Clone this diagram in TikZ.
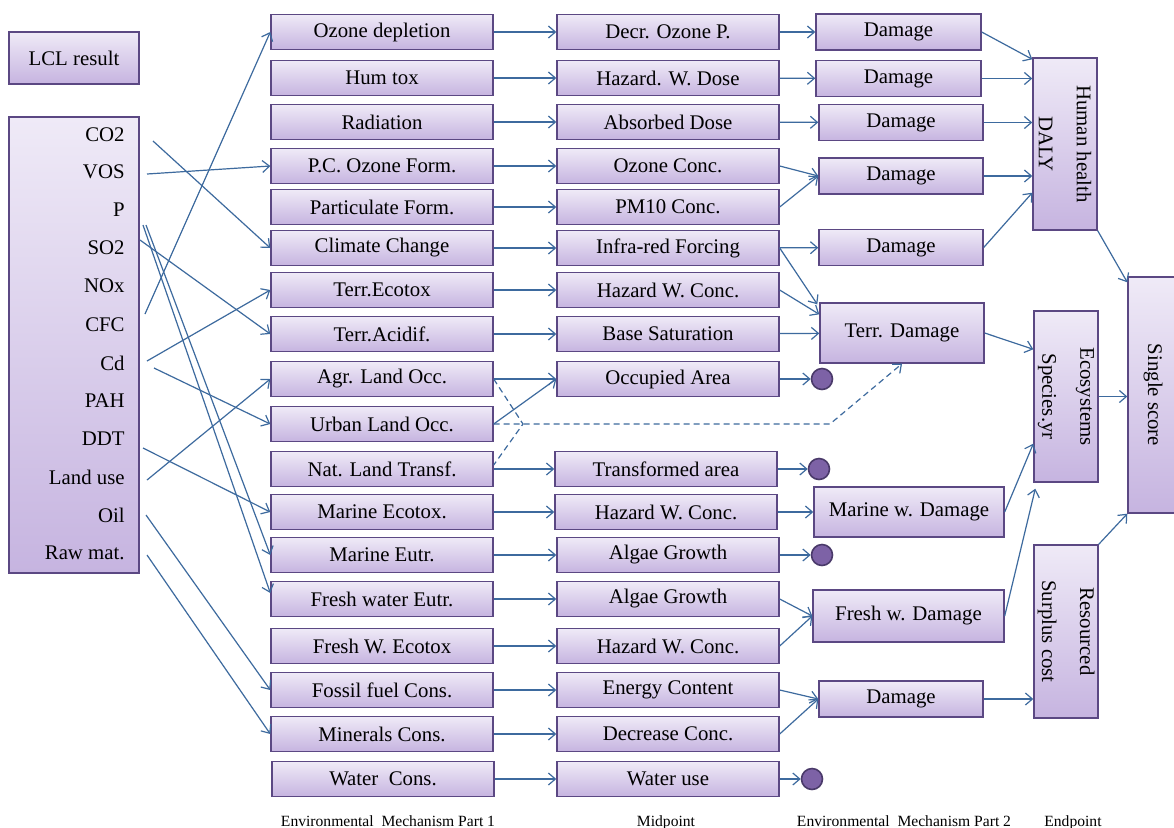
\documentclass[tikz,border=0pt]{standalone}
\usepackage{fontspec}
\setmainfont{Liberation Serif}
\usepackage{xcolor}
\usetikzlibrary{arrows.meta,positioning,calc}
\definecolor{boxtop}{HTML}{EFEAF7}
\definecolor{boxbottom}{HTML}{C6B4E0}
\definecolor{boxline}{HTML}{5B4883}
\definecolor{linkblue}{HTML}{3D6A9E}
\definecolor{dotfill}{HTML}{7D62A6}
\definecolor{dotline}{HTML}{4A3A6A}

\begin{document}
\begin{tikzpicture}[x=0.5pt, y=-0.5pt,
    box/.style={draw=boxline, line width=0.7pt, top color=boxtop, bottom color=boxbottom, inner sep=0pt, minimum height=17.5pt, font=\fontsize{10.4}{12}\selectfont},
    impact/.style={box, minimum width=111pt},
    dmg/.style={box, minimum width=82pt, minimum height=18pt},
    vbox/.style={box, minimum width=32pt},
    vlabel/.style={rotate=-90, align=center, font=\fontsize{10.4}{19}\selectfont},
    srclabel/.style={anchor=east, inner sep=0pt, font=\fontsize{10.4}{12}\selectfont},
    endpt/.style={circle, draw=dotline, line width=0.8pt, fill=dotfill, minimum size=10.5pt, inner sep=0pt},
    stagelabel/.style={anchor=base, font=\fontsize{7.8}{9}\selectfont},
    link/.style={draw=linkblue, line width=0.6pt, -{Straight Barb[length=3.5pt,width=6pt]}},
    landdash/.style={draw=linkblue, line width=0.6pt, dash pattern=on 3pt off 2pt}
]
\path[use as bounding box, fill=white] (0,0) rectangle (1174,827);
% INPUTS: LCI result
\node[box, minimum width=65pt, minimum height=26pt] (lcl) at (74,58) {LCL result};
\node[box, minimum width=65pt, minimum height=228pt] (inputs) at (74,345) {};
\node[srclabel] (co2) at (125,135) {CO2};
\node[srclabel] (vos) at (125,172) {VOS};
\node[srclabel] (phos) at (125,210) {P};
\node[srclabel] (so2) at (125,248) {SO2};
\node[srclabel] (nox) at (125,286) {NOx};
\node[srclabel] (cfc) at (125,325) {CFC};
\node[srclabel] (cd) at (125,363) {Cd};
\node[srclabel] (pah) at (125,401) {PAH};
\node[srclabel] (ddt) at (125,439) {DDT};
\node[srclabel] (landuse) at (125,477) {Land use};
\node[srclabel] (oil) at (125,515) {Oil};
\node[srclabel] (rawmat) at (125,553) {Raw mat.};
% ENVIRONMENTAL MECHANISM PART 1
\node[impact] (ozdep) at (382,32) {Ozone depletion};
\node[impact] (humtox) at (382,78) {Hum tox};
\node[impact] (radiat) at (382,122) {Radiation};
\node[impact] (pcozone) at (382,166) {P.C. Ozone Form.};
\node[impact] (partic) at (382,207) {Particulate Form.};
\node[impact] (climate) at (382,248) {Climate Change};
\node[impact] (terreco) at (382,290) {Terr.Ecotox};
\node[impact] (terracid) at (382,334) {Terr.Acidif.};
\node[impact] (agrland) at (382,379) {Agr. Land Occ.};
\node[impact] (urbland) at (382,424) {Urban Land Occ.};
\node[impact] (natland) at (382,469) {Nat. Land Transf.};
\node[impact] (marineco) at (382,512) {Marine Ecotox.};
\node[impact] (marineut) at (382,555) {Marine Eutr.};
\node[impact] (freshut) at (382,599) {Fresh water Eutr.};
\node[impact] (freshtox) at (382,646) {Fresh W. Ecotox};
\node[impact] (fossil) at (382,690) {Fossil fuel Cons.};
\node[impact] (minerals) at (382,734) {Minerals Cons.};
\node[impact] (water) at (383,779) {Water\ \ Cons.};
% MIDPOINT
\node[impact] (decroz) at (668,32) {Decr. Ozone P.};
\node[impact] (hazdose) at (668,78) {Hazard. W. Dose};
\node[impact] (absdose) at (668,122) {Absorbed Dose};
\node[impact] (ozconc) at (668,166) {Ozone Conc.};
\node[impact] (pmconc) at (668,207) {PM10 Conc.};
\node[impact] (infrared) at (668,248) {Infra-red Forcing};
\node[impact] (hazterr) at (668,290) {Hazard W. Conc.};
\node[impact] (basesat) at (668,334) {Base Saturation};
\node[impact] (occarea) at (668,379) {Occupied Area};
\node[impact] (transarea) at (666,469) {Transformed area};
\node[impact] (hazmar) at (666,512) {Hazard W. Conc.};
\node[impact] (algmar) at (668,555) {Algae Growth};
\node[impact] (algfresh) at (668,599) {Algae Growth};
\node[impact] (hazfresh) at (668,646) {Hazard W. Conc.};
\node[impact] (energy) at (668,690) {Energy Content};
\node[impact] (decconc) at (668,734) {Decrease Conc.};
\node[impact] (wateruse) at (668,779) {Water use};
\node[endpt] (dotocc) at (822,379) {};
\node[endpt] (dottrans) at (819,469) {};
\node[endpt] (dotalg) at (822,555) {};
\node[endpt] (dotwater) at (812,779) {};
% ENVIRONMENTAL MECHANISM PART 2
\node[dmg, minimum width=82.5pt] (dmgoz) at (898.5,32) {Damage};
\node[dmg, minimum width=82.5pt] (dmgtox) at (898.5,78.5) {Damage};
\node[dmg] (dmgrad) at (901,122.5) {Damage};
\node[dmg] (dmgpco) at (901,176) {Damage};
\node[dmg] (dmgclim) at (901,247.5) {Damage};
\node[dmg, minimum height=30pt] (terrdmg) at (902,333) {Terr. Damage};
\node[dmg, minimum width=95pt, minimum height=25pt] (marinedmg) at (909,512) {Marine w. Damage};
\node[dmg, minimum width=95.5pt, minimum height=26pt] (freshdmg) at (908.5,616) {Fresh w. Damage};
\node[dmg] (dmgres) at (901,699) {Damage};
% ENDPOINT
\node[vbox, minimum height=86pt] (human) at (1065,144) {};
\node[vlabel] (humanlbl) at (human) {Human health\\DALY};
\node[vbox, minimum height=85.5pt] (ecosys) at (1066,396.5) {};
\node[vlabel] (ecosyslbl) at (ecosys) {Ecosystems\\Species.yr};
\node[vbox, minimum height=86.5pt] (resource) at (1066,631.5) {};
\node[vlabel] (resourcelbl) at (resource) {Resourced\\Surplus cost};
\node[vbox, minimum width=25pt, minimum height=118pt] (single) at (1153,395) {};
\node[vlabel] (singlelbl) at (single) {Single score};
% stage captions
\node[stagelabel] (stage1) at (388,826) {Environmental\ \ Mechanism Part 1};
\node[stagelabel] (stage2) at (666,826) {Midpoint};
\node[stagelabel] (stage3) at (904,826) {Environmental\ \ Mechanism Part 2};
\node[stagelabel] (stage4) at (1073,826) {Endpoint};
% inputs -> impact categories
\draw[link] ([xshift=14pt,yshift=-3pt]co2.east) -- (climate.west);
\draw[link] ([xshift=11pt,yshift=-1pt]vos.east) -- (pcozone.west);
\draw[link] ([xshift=10.5pt,yshift=-7.5pt]phos.east) -- (marineut.west);
\draw[link] ([xshift=9pt,yshift=-7.5pt]phos.east) -- ([yshift=3pt]freshut.west);
\draw[link] ([xshift=7.5pt,yshift=4pt]so2.east) -- (terracid.west);
\draw[link] ([xshift=10pt,yshift=5.5pt]cfc.east) -- (ozdep.west);
\draw[link] ([xshift=11pt,yshift=1pt]cd.east) -- (terreco.west);
\draw[link] ([xshift=14.5pt,yshift=-2.5pt]cd.east) -- (urbland.west);
\draw[link] ([xshift=9pt,yshift=-4.5pt]ddt.east) -- (marineco.west);
\draw[link] ([xshift=11pt,yshift=-1.5pt]landuse.east) -- (agrland.west);
\draw[link] ([xshift=10.5pt]oil.east) -- (fossil.west);
\draw[link] ([xshift=11pt,yshift=-1pt]rawmat.east) -- (minerals.west);
% impact categories -> midpoints
\draw[link] (ozdep) -- (decroz);
\draw[link] (humtox) -- (hazdose);
\draw[link] (radiat) -- (absdose);
\draw[link] (pcozone) -- (ozconc);
\draw[link] (partic) -- (pmconc);
\draw[link] (climate) -- (infrared);
\draw[link] (terreco) -- (hazterr);
\draw[link] (terracid) -- (basesat);
\draw[link] (agrland) -- (occarea);
\draw[link] (urbland.east) -- (occarea.west);
\draw[link] (natland) -- (transarea);
\draw[link] (marineco) -- (hazmar);
\draw[link] (marineut) -- (algmar);
\draw[link] (freshut) -- (algfresh);
\draw[link] (freshtox) -- (hazfresh);
\draw[link] (fossil) -- (energy);
\draw[link] (minerals) -- (decconc);
\draw[link] (water) -- (wateruse);
% land use, dashed
\coordinate (landjoin) at (523,424);
\coordinate (landbend) at (830,424);
\draw[landdash] (agrland.east) -- (landjoin) -- ([yshift=2pt]natland.east);
\draw[landdash, -{Straight Barb[length=3.5pt,width=6pt]}] (urbland.east) -- (landbend) -- (terrdmg.south);
% midpoints -> damage
\draw[link] (decroz) -- (dmgoz);
\draw[link] (hazdose) -- (dmgtox);
\draw[link] (absdose) -- (dmgrad);
\draw[link] (ozconc.east) -- (dmgpco.west);
\draw[link] (pmconc.east) -- (dmgpco.west);
\draw[link] (infrared) -- (dmgclim);
\draw[link] (infrared.east) -- ([xshift=-1pt,yshift=-1pt]terrdmg.north west);
\draw[link] (hazterr.east) -- ([yshift=-6pt]terrdmg.north west);
\draw[link] (basesat) -- (terrdmg);
\draw[link] (occarea) -- (dotocc);
\draw[link] (transarea) -- (dottrans);
\draw[link] (hazmar) -- (marinedmg);
\draw[link] (algmar) -- (dotalg);
\draw[link] (algfresh.east) -- (freshdmg.west);
\draw[link] (hazfresh.east) -- (freshdmg.west);
\draw[link] (energy.east) -- (dmgres.west);
\draw[link] (decconc.east) -- (dmgres.west);
\draw[link] (wateruse) -- (dotwater);
% damage -> endpoints
\draw[link] (dmgoz.east) -- ([yshift=-1pt]human.north west);
\draw[link] (dmgtox.east) -- (dmgtox.east -| human.west);
\draw[link] (dmgrad.east) -- (dmgrad.east -| human.west);
\draw[link] (dmgpco.east) -- (dmgpco.east -| human.west);
\draw[link] (dmgclim.east) -- ([yshift=19pt]human.south west);
\draw[link] (terrdmg.east) -- ([yshift=-19.5pt]ecosys.north west);
\draw[link] (marinedmg.east) -- ([yshift=19.5pt]ecosys.south west);
\draw[link] (freshdmg.east) -- ([xshift=1pt,yshift=-3pt]ecosys.south west);
\draw[link] (dmgres.east) -- (dmgres.east -| resource.west);
\draw[link] (human.south east) -- ([yshift=-3pt]single.north west);
\draw[link] (ecosys.east) -- (ecosys.east -| single.west);
\draw[link] (resource.north east) -- (single.south west);
\end{tikzpicture}
\end{document}
